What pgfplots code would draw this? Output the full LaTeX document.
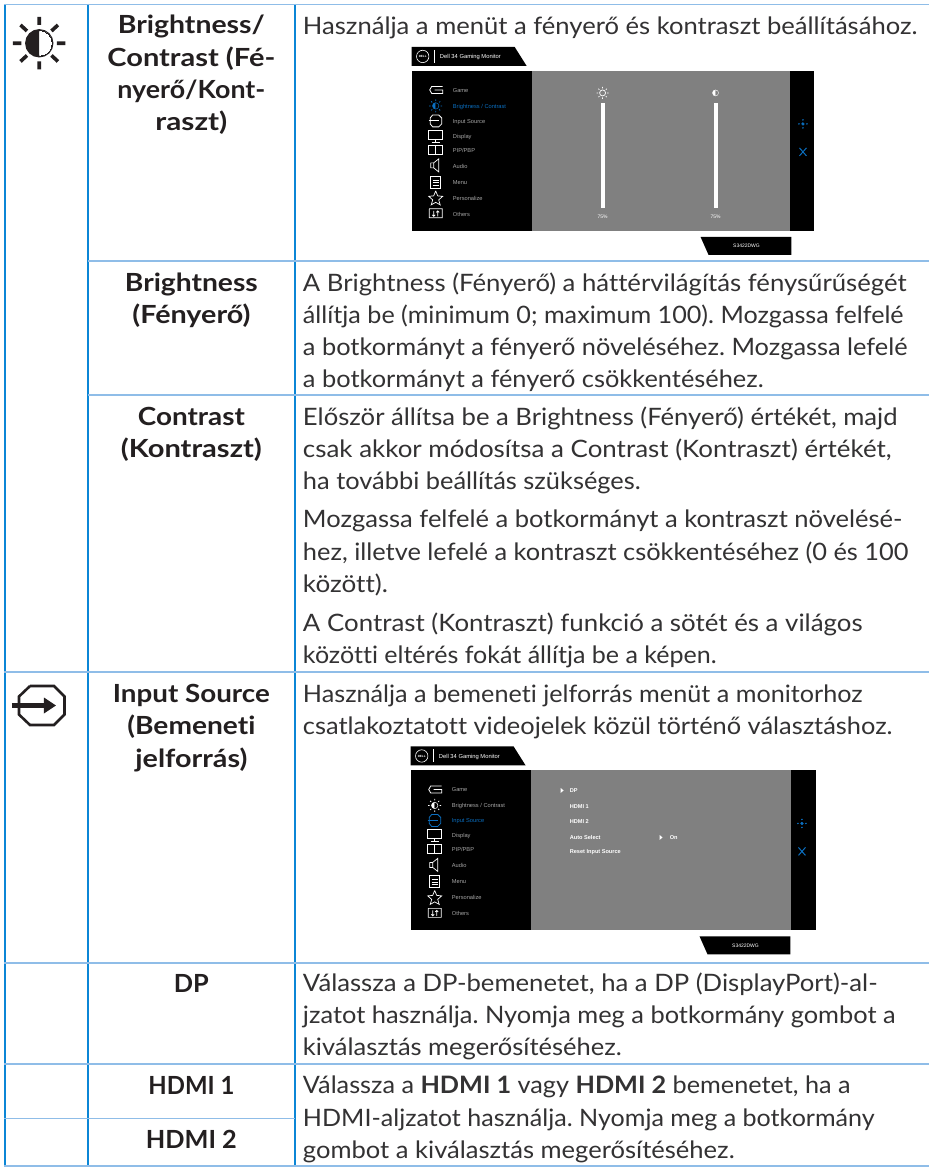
\documentclass[border=0pt]{standalone}
\usepackage{graphicx}
\usepackage{pgfplots}
\pgfplotsset{compat=1.18}
\usepackage{fontspec}
\setmainfont{Lato}[Ligatures=NoCommon,FakeStretch=1.068]
\newfontfamily\hf{Lato}[Ligatures=NoCommon,FakeStretch=1.15]
\newfontfamily\mf{Liberation Sans}
\frenchspacing
\usetikzlibrary{plotmarks}
\definecolor{vline}{HTML}{0B86D6}
\definecolor{hline}{HTML}{8FBDE8}
\definecolor{ink}{HTML}{333233}
\definecolor{head}{HTML}{231F20}
\definecolor{osdblue}{HTML}{0B6FC0}
\definecolor{osdgrey}{HTML}{A6A6A6}
\definecolor{panel}{HTML}{808080}
\pgfplotsset{pagepx/.style={x=1pt,y=1pt,y dir=reverse,hide axis,clip=false,enlargelimits=false,unbounded coords=jump}}
% #1 baseline y, #2 right end of the line, #3 text
\newcommand{\R}[3]{\node[anchor=base west,inner sep=0pt,text=ink,font=\fontsize{24}{30}\selectfont] at (axis cs:303,#1) {\pgfmathsetmacro{\rowwidth}{#2-303}\resizebox{\rowwidth pt}{\height}{#3}};}
% #1 baseline y, #2 width, #3 text
\newcommand{\C}[3]{\node[anchor=base,inner sep=0pt,text=head,font=\hf\fontsize{25}{30}\selectfont\bfseries] at (axis cs:191.5,#1) {\resizebox{#2pt}{\height}{#3}};}
\newcommand{\mitem}[3]{\node[anchor=mid west,inner sep=0pt,text=#3,font=\mf\fontsize{5.7}{7}\selectfont] at (axis cs:41,#1) {#2};}
% #1 x, #2 page y, #3 menu width, #4 panel right, #5 icon colour brightness, #6 icon colour input
\newcommand{\monitor}[6]{%
\begin{axis}[pagepx,anchor=north west,at={(#1pt,#2pt)},xmin=0,xmax=#3,ymin=0,ymax=208]
\addplot[fill=black,draw=none] coordinates {(0,0) (103,0) (115,19) (0,19)} --cycle;
\addplot[fill=black,draw=none] coordinates {(0,24) (#3,24) (#3,184) (0,184)} --cycle;
\addplot[fill=panel,draw=none] coordinates {(120,24) (#4,24) (#4,184) (120,184)} --cycle;
\addplot[fill=black,draw=none] coordinates {(289,190) (380,190) (380,208) (297,208)} --cycle;
% dell logo
\addplot[only marks,mark=o,mark size=6.2pt,mark options={draw=white,line width=0.6pt}] coordinates {(11,9.5)};
\addplot[white,line width=0.7pt] coordinates {(23,3) (23,16)};
\node[text=white,font=\mf\fontsize{3}{4}\selectfont\bfseries,inner sep=0pt] at (axis cs:11,9.5) {DELL};
\node[anchor=mid west,inner sep=0pt,text=white,font=\mf\fontsize{5.8}{7}\selectfont] at (axis cs:28,9.5) {Dell 34 Gaming Monitor};
\node[text=white,font=\mf\fontsize{5}{7}\selectfont,inner sep=0pt] at (axis cs:335,199) {S3422DWG};
% menu icons
\addplot[white,line width=0.8pt] coordinates {(31,39.5) (20,39.5) (18,43) (20,46.5) (31,46.5) (31,43) (23,43)};
\addplot[#5,line width=0.8pt] coordinates {(24,52.5) (24,54) (nan,nan) (24,64) (24,65.5) (nan,nan) (17.5,59) (19,59) (nan,nan) (29,59) (30.5,59) (nan,nan) (19.5,54.5) (20.5,55.5) (nan,nan) (27.5,62.5) (28.5,63.5) (nan,nan) (19.5,63.5) (20.5,62.5) (nan,nan) (27.5,55.5) (28.5,54.5)};
\addplot[only marks,mark=halfcircle*,mark size=3.2pt,mark color=black,mark options={draw=#5,fill=#5,rotate=90,line width=0.5pt}] coordinates {(24,59)};
\addplot[#6,line width=0.8pt] coordinates {(21,68) (27,68) (30,71) (30,77) (27,80) (21,80) (18.5,77) (18.5,71) (21,68)};
\addplot[#6,line width=0.9pt] coordinates {(17,74) (27,74)};
\addplot[white,line width=0.7pt] coordinates {(17,83) (31,83) (31,92) (17,92) (17,83)};
\addplot[white,line width=0.7pt] coordinates {(24,92) (24,95) (nan,nan) (20,95) (28,95)};
\addplot[white,line width=0.7pt] coordinates {(17,98) (31,98) (31,107) (17,107) (17,98) (nan,nan) (24,98) (24,107)};
\addplot[white,line width=0.7pt] coordinates {(19,116) (22,116) (27,112) (27,125) (22,121) (19,121) (19,116) (nan,nan) (22,116) (22,121)};
\addplot[white,line width=0.7pt] coordinates {(19,129) (29,129) (29,141) (19,141) (19,129) (nan,nan) (21,133) (27,133) (nan,nan) (21,135.5) (27,135.5) (nan,nan) (21,138) (27,138)};
\addplot[white,line width=0.7pt] coordinates {(24,144) (26,149) (31,149.5) (27,153) (28.5,158) (24,155.5) (19.5,158) (21,153) (17,149.5) (22,149) (24,144)};
\addplot[white,line width=0.7pt] coordinates {(17.5,162) (30.5,162) (30.5,171) (17.5,171) (17.5,162) (nan,nan) (22,164) (22,169.5) (nan,nan) (20.5,168) (22,169.5) (23.5,168) (nan,nan) (26,164) (26,169.5) (nan,nan) (24.5,165.5) (26,164) (27.5,165.5)};
% menu labels
\mitem{43}{Game}{osdgrey}
\mitem{59}{Brightness / Contrast}{brighttext}
\mitem{74}{Input Source}{inputtext}
\mitem{89}{Display}{osdgrey}
\mitem{103}{PIP/PBP}{osdgrey}
\mitem{119}{Audio}{osdgrey}
\mitem{135}{Menu}{osdgrey}
\mitem{151}{Personalize}{osdgrey}
\mitem{167}{Others}{osdgrey}
% side icons
\addplot[osdblue,line width=1pt] coordinates {(388,101) (395,109) (nan,nan) (395,101) (388,109)};
\addplot[only marks,mark=*,mark size=1.4pt,mark options={draw=osdblue,fill=osdblue}] coordinates {(391.5,77)};
\addplot[only marks,mark=*,mark size=0.55pt,mark options={draw=osdblue,fill=osdblue}] coordinates {(391.5,73) (391.5,81) (387.5,77) (395.5,77)};
\monitorbody
\end{axis}}
\begin{document}
\begin{tikzpicture}
\begin{axis}[pagepx,anchor=south west,at={(0pt,0pt)},xmin=0,xmax=930,ymin=0,ymax=1168]
\addplot[fill=white,draw=none] coordinates {(0,0) (930,0) (930,1168) (0,1168)} --cycle;
% vertical rules
\addplot[vline,line width=1.6pt] coordinates {(5,4) (5,1168)};
\addplot[vline,line width=1.6pt] coordinates {(88,4) (88,1168)};
\addplot[vline,line width=1.6pt] coordinates {(295,4) (295,1168)};
% horizontal rules
\addplot[hline,line width=1.8pt] coordinates {(4,4.5) (930,4.5)};
\addplot[hline,line width=1.8pt] coordinates {(88,261.5) (930,261.5)};
\addplot[hline,line width=1.8pt] coordinates {(88,395.5) (930,395.5)};
\addplot[hline,line width=1.8pt] coordinates {(4,672.5) (930,672.5)};
\addplot[hline,line width=1.8pt] coordinates {(4,963.5) (930,963.5)};
\addplot[hline,line width=1.8pt] coordinates {(4,1065) (930,1065)};
\addplot[hline,line width=1.4pt] coordinates {(4,1119) (295,1119)};
\addplot[hline,line width=1.8pt] coordinates {(4,1167) (930,1167)};
% sun icon
\addplot[head,line width=3.6pt] coordinates {(39.3,17) (39.3,25) (nan,nan) (39.3,61.5) (39.3,69.5) (nan,nan) (13,43.3) (21.5,43.3) (nan,nan) (57,43.3) (65.5,43.3) (nan,nan) (20.5,25) (27,31) (nan,nan) (58,25) (51.5,31) (nan,nan) (20.5,61.5) (27,55.5) (nan,nan) (58,61.5) (51.5,55.5)};
\addplot[only marks,mark=*,mark size=13pt,mark options={draw=head,fill=white,line width=2.4pt}] coordinates {(39.3,43.3)};
\addplot[only marks,mark=halfcircle*,mark size=13pt,mark color=white,mark options={draw=head,fill=head,rotate=90,line width=0pt}] coordinates {(39.3,43.3)};
% input icon
\addplot[head,line width=2.6pt] coordinates {(30,686.5) (54,686.5) (64.5,697) (64.5,715) (54,725.5) (30,725.5) (19,715) (19,697) (30,686.5)};
\addplot[head,line width=4.6pt] coordinates {(12,706) (47,706)};
\addplot[fill=head,draw=none] coordinates {(44,698) (56,706) (44,714)} --cycle;
% col 2
\C{34}{147}{Brightness/}
\C{67}{168}{Contrast (Fé-}
\C{99}{148}{nyerő/Kont-}
\C{131}{72}{raszt)}
\C{292}{133}{Brightness}
\C{324}{118}{(Fényerő)}
\C{426}{107}{Contrast}
\C{458}{141}{(Kontraszt)}
\C{703}{157}{Input Source}
\C{735}{128}{(Bemeneti}
\C{768}{112}{jelforrás)}
\C{993}{35}{DP}
\C{1095}{86}{HDMI 1}
\C{1149}{91}{HDMI 2}
% col 3
\R{35}{918}{Használja a menüt a fényerő és kontraszt beállításához.}
\R{292}{907}{A Brightness (Fényerő) a háttérvilágítás fénysűrűségét}
\R{324}{904}{állítja be (minimum 0; maximum 100). Mozgassa felfelé}
\R{356}{908}{a botkormányt a fényerő növeléséhez. Mozgassa lefelé}
\R{388}{764}{a botkormányt a fényerő csökkentéséhez.}
\R{426}{898}{Először állítsa be a Brightness (Fényerő) értékét, majd}
\R{458}{892}{csak akkor módosítsa a Contrast (Kontraszt) értékét,}
\R{490}{641}{ha további beállítás szükséges.}
\R{528}{903}{Mozgassa felfelé a botkormányt a kontraszt növelésé-}
\R{561}{909}{hez, illetve lefelé a kontraszt csökkentéséhez (0 és 100}
\R{593}{388}{között).}
\R{632}{863}{A Contrast (Kontraszt) funkció a sötét és a világos}
\R{664}{717}{közötti eltérés fokát állítja be a képen.}
\R{703}{863}{Használja a bemeneti jelforrás menüt a monitorhoz}
\R{735}{893}{csatlakoztatott videojelek közül történő választáshoz.}
\R{992}{878}{Válassza a DP-bemenetet, ha a DP (DisplayPort)-al-}
\R{1024}{896}{jzatot használja. Nyomja meg a botkormány gombot a}
\R{1056}{622}{kiválasztás megerősítéséhez.}
\R{1094}{851}{Válassza a \textbf{HDMI 1} vagy \textbf{HDMI 2} bemenetet, ha a}
\R{1127}{875}{HDMI-aljzatot használja. Nyomja meg a botkormány}
\R{1159}{735}{gombot a kiválasztás megerősítéséhez.}
\end{axis}
% first monitor
\def\monitorbody{%
\addplot[fill=white,draw=none] coordinates {(189,56) (193,56) (193,161) (189,161)} --cycle;
\addplot[fill=white,draw=none] coordinates {(302,56) (306,56) (306,161) (302,161)} --cycle;
\node[text=white,font=\mf\fontsize{5}{7}\selectfont,inner sep=0pt] at (axis cs:191,170) {75\%};
\node[text=white,font=\mf\fontsize{5}{7}\selectfont,inner sep=0pt] at (axis cs:304,170) {75\%};
\addplot[only marks,mark=o,mark size=3pt,mark options={draw=white,line width=0.7pt}] coordinates {(191,46)};
\addplot[white,line width=0.7pt] coordinates {(191,40) (191,41.5) (nan,nan) (191,50.5) (191,52) (nan,nan) (185,46) (186.5,46) (nan,nan) (195.5,46) (197,46) (nan,nan) (186.8,41.8) (187.8,42.8) (nan,nan) (194.2,49.2) (195.2,50.2) (nan,nan) (186.8,50.2) (187.8,49.2) (nan,nan) (194.2,42.8) (195.2,41.8)};
\addplot[only marks,mark=halfcircle*,mark size=3pt,mark color=panel,mark options={draw=white,fill=white,rotate=90,line width=0.4pt}] coordinates {(304,46)};
}
\colorlet{brighttext}{osdblue}\colorlet{inputtext}{osdgrey}
\monitor{412}{1121}{403}{379}{osdblue}{white}
% second monitor
\def\monitorbody{%
\node[anchor=mid west,text=white,font=\mf\fontsize{5.6}{7}\selectfont\bfseries,inner sep=0pt] at (axis cs:159,44) {DP};
\node[anchor=mid west,text=white,font=\mf\fontsize{5.6}{7}\selectfont\bfseries,inner sep=0pt] at (axis cs:159,60) {HDMI 1};
\node[anchor=mid west,text=white,font=\mf\fontsize{5.6}{7}\selectfont\bfseries,inner sep=0pt] at (axis cs:159,75) {HDMI 2};
\node[anchor=mid west,text=white,font=\mf\fontsize{5.6}{7}\selectfont\bfseries,inner sep=0pt] at (axis cs:159,91) {Auto Select};
\node[anchor=mid west,text=white,font=\mf\fontsize{5.6}{7}\selectfont\bfseries,inner sep=0pt] at (axis cs:159,105) {Reset Input Source};
\node[anchor=mid west,text=white,font=\mf\fontsize{5.6}{7}\selectfont\bfseries,inner sep=0pt] at (axis cs:259,91) {On};
\addplot[fill=white,draw=none] coordinates {(150,41.5) (153,44) (150,46.5)} --cycle;
\addplot[fill=white,draw=none] coordinates {(249,88.5) (252,91) (249,93.5)} --cycle;
}
\colorlet{brighttext}{osdgrey}\colorlet{inputtext}{osdblue}
\monitor{411}{421}{406}{381}{white}{osdblue}
\end{tikzpicture}
\end{document}
